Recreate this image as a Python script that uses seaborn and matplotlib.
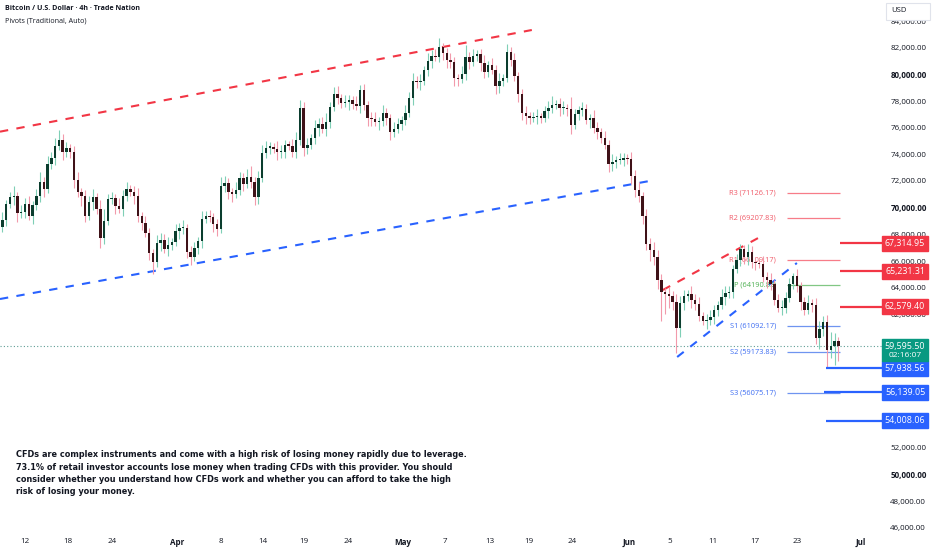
import numpy as np
import pandas as pd
import seaborn as sns
import matplotlib.pyplot as plt
from matplotlib.patches import Rectangle
import matplotlib.transforms as mtransforms

# 12h candles, closes (USD)
first_open = 67900
closes = [
    68550, 69100, 70300, 70800, 70900, 69600, 69700, 70300, 69400, 70200,
    70900, 71900, 71400, 73300, 73700, 74600, 75100, 74200, 74450, 74200,
    72100, 71200, 70850, 69400, 70450, 70800, 69900, 67750, 69000, 70650,
    70700, 70150, 69900, 70900, 71400, 71200, 70900, 69350, 68850, 68100,
    66600, 65950, 67350, 67600, 66900, 67200, 67400, 68250, 68450, 68500,
    66700, 66300, 66950, 67500, 69150, 69350, 69300, 68750, 68400, 71600,
    71850, 71150, 71000, 71350, 72200, 71750, 72300, 71900, 70800, 72250,
    74100, 74500, 74550, 74400, 74150, 74200, 74700, 74650, 74200, 75100,
    77500, 74500, 74700, 75200, 76000, 76300, 75900, 76400, 77550, 78550,
    78250, 77850, 77950, 78050, 77800, 77600, 78800, 77700, 76750, 76650,
    76400, 76500, 77100, 76700, 75700, 75900, 76300, 76600, 77100, 78200,
    79500, 79400, 79500, 80300, 81000, 81400, 81300, 82050, 81600, 81100,
    80900, 79700, 79650, 80000, 81300, 80900, 81400, 81500, 80850, 80200,
    80700, 80300, 79100, 79500, 79700, 81650, 81100, 79900, 78500, 77100,
    76900, 76700, 76800, 76800, 76750, 77250, 77500, 77700, 77800, 77450,
    77500, 77400, 76200, 77000, 77350, 77400, 76600, 76750, 76000, 75650,
    75250, 74700, 73250, 73400, 73550, 73600, 73700, 73650, 72400, 71300,
    70850, 69400, 67300, 66800, 66300, 64600, 63700, 63550, 63350, 62900,
    61000, 62850, 63400, 63550, 63100, 62800, 61900, 61500, 61600, 61800,
    62300, 62700, 63300, 63600, 63700, 65400, 66050, 66900, 66300, 66650,
    65900, 65850, 65750, 64800, 64600, 64300, 63100, 62450, 62500, 63200,
    64300, 64900, 64150, 62900, 62350, 62850, 62700, 60200, 60900, 61450,
    59350, 59600, 60000, 59595.5,
]
# wick lengths above / below the body, in hundreds of USD
wick_up = [
    5, 6, 3, 4, 7, 3, 5, 4, 6, 3, 5, 8, 4, 6, 5, 6, 7, 4, 5, 3,
    4, 6, 3, 5, 4, 6, 3, 7, 9, 4, 5, 3, 6, 4, 5, 3, 4, 6, 3, 5,
    4, 3, 6, 5, 4, 6, 3, 5, 4, 6, 3, 4, 5, 3, 6, 4, 5, 3, 4, 7,
    5, 4, 3, 6, 5, 4, 6, 8, 4, 5, 6, 5, 4, 3, 6, 5, 4, 3, 5, 6,
    6, 4, 5, 3, 6, 4, 5, 7, 4, 5, 6, 3, 5, 4, 3, 6, 4, 5, 3, 4,
    5, 3, 6, 4, 3, 5, 4, 3, 6, 5, 6, 4, 5, 3, 6, 4, 5, 7, 3, 4,
    5, 4, 3, 6, 9, 4, 5, 3, 4, 6, 3, 5, 4, 6, 3, 6, 4, 5, 3, 4,
    5, 3, 4, 6, 3, 4, 5, 7, 3, 4, 5, 3, 9, 4, 3, 5, 4, 3, 6, 4,
    3, 5, 4, 6, 3, 5, 4, 3, 5, 4, 6, 3, 5, 4, 6, 5, 4, 3, 5, 4,
    6, 5, 4, 3, 6, 4, 5, 3, 4, 5, 4, 3, 6, 5, 4, 3, 5, 4, 3, 6,
    5, 4, 3, 6, 4, 5, 3, 4, 6, 5, 4, 2, 5, 3, 4, 6, 3, 5, 6, 4,
    5, 11, 6, 3,
]
wick_down = [
    6, 4, 5, 3, 6, 7, 4, 5, 3, 6, 4, 5, 6, 3, 4, 5, 3, 6, 4, 5,
    6, 4, 7, 5, 3, 6, 4, 8, 5, 3, 4, 6, 3, 5, 4, 3, 6, 4, 5, 3,
    5, 9, 4, 6, 3, 5, 4, 3, 6, 4, 5, 6, 3, 4, 5, 3, 4, 6, 5, 3,
    4, 5, 6, 3, 4, 5, 3, 4, 6, 5, 3, 4, 5, 3, 6, 4, 5, 3, 4, 5,
    4, 6, 5, 3, 4, 6, 3, 5, 4, 3, 5, 4, 3, 6, 4, 3, 5, 4, 6, 5,
    3, 6, 4, 5, 6, 4, 3, 5, 4, 3, 5, 4, 6, 3, 4, 5, 3, 4, 5, 6,
    4, 6, 5, 3, 4, 5, 3, 4, 6, 5, 4, 3, 6, 5, 4, 3, 5, 4, 6, 5,
    6, 4, 3, 5, 4, 3, 5, 4, 3, 6, 4, 5, 7, 3, 4, 5, 3, 6, 4, 5,
    4, 3, 6, 5, 4, 3, 5, 4, 6, 5, 4, 6, 5, 8, 6, 7, 22, 15, 9, 6,
    19, 7, 5, 4, 6, 5, 4, 3, 6, 4, 5, 4, 3, 6, 4, 5, 3, 4, 5, 6,
    4, 5, 3, 4, 6, 5, 4, 3, 5, 4, 3, 4, 5, 6, 4, 3, 5, 4, 8, 5,
    13, 6, 14, 11,
]

# time axis in days since 1 Mar, bars every 12h
bar_start, bar_step = 7.5, 0.5

# x tick labels
tick_days = [11.0, 16.7, 22.55, 31.2, 37.0, 42.6, 48.05, 53.9, 61.2, 66.8,
             72.75, 77.9, 83.65, 91.2, 96.65, 102.35, 107.95, 113.5, 122.0]
tick_text = ["12", "18", "24", "Apr", "8", "14", "19", "24", "May", "7",
             "13", "19", "24", "Jun", "5", "11", "17", "23", "Jul"]
month_text = ["Apr", "May", "Jun", "Jul"]

# trend lines: (day, price) end points
channel_top = [(7.68, 75700), (78.3, 83325)]
channel_bottom = [(7.68, 63150), (94.66, 72075)]
flag_top = [(95.7, 63825), (108.6, 67800)]
flag_bottom = [(97.6, 58800), (113.5, 65850)]

# traditional pivots
pivot_names = ["R3", "R2", "R1", "P", "S1", "S2", "S3"]
pivot_values = [71126.17, 69207.83, 66109.17, 64190.83, 61092.17, 59173.83, 56075.17]

# key levels
resist_levels = [67314.95, 65231.31, 62579.40]
support_levels = [57938.56, 56139.05, 54008.06]
last_price = 59595.50
countdown = "02:16:07"

disclaimer = ("CFDs are complex instruments and come with a high risk of losing money rapidly due to leverage.\n"
              "73.1% of retail investor accounts lose money when trading CFDs with this provider. You should\n"
              "consider whether you understand how CFDs work and whether you can afford to take the high\n"
              "risk of losing your money.")

# ---- build OHLC table
df = pd.DataFrame({"close": closes})
df["t"] = bar_start + bar_step * np.arange(len(df))
df["open"] = [first_open] + closes[:-1]
df["high"] = df[["open", "close"]].max(axis=1) + np.array(wick_up) * 100
df["low"] = df[["open", "close"]].min(axis=1) - np.array(wick_down) * 100
df["up"] = df["close"] >= df["open"]

sns.set_theme(style="white")
plt.rcParams["font.family"] = ["Open Sans", "DejaVu Sans"]
TXT = "#131722"
RED, BLUE, GREEN = "#f23645", "#2962ff", "#089981"

fig = plt.figure(figsize=(9.32, 5.5), dpi=100)
ax = fig.add_axes([0, 18 / 550, 882 / 932, 532 / 550])
ax.set_xlim(7.68, 124.8)
ax.set_ylim(45675, 85575)

# trend lines
for pts, col in [(channel_top, RED), (channel_bottom, BLUE), (flag_top, RED), (flag_bottom, BLUE)]:
    ax.plot([p[0] for p in pts], [p[1] for p in pts], color=col, lw=1.5,
            ls=(0, (4, 4)), zorder=2)

# candles
wick_col = np.where(df["up"], "#7fcfb6", "#f29aab")
body_col = np.where(df["up"], "#0b3d2e", "#3f1218")
ax.vlines(df["t"], df["low"], df["high"], colors=wick_col, lw=0.8, zorder=3)
height = np.maximum((df["close"] - df["open"]).abs(), 90)
ax.bar(df["t"], height, bottom=df[["open", "close"]].min(axis=1), width=0.32,
       color=body_col, linewidth=0, zorder=4)

# last price dotted line
ax.axhline(last_price, color="#5f9e95", lw=0.8, ls=(0, (1, 2)), zorder=1)

# pivot lines and labels
piv_col = {"R": ("#f77c88", "#f05a68"), "P": ("#81c784", "#4caf50"), "S": ("#6f94f0", "#3d6df2")}
for name, val in zip(pivot_names, pivot_values):
    lc, tc = piv_col[name[0]]
    ax.hlines(val, 112.2, 119.2, color=lc, lw=0.9, zorder=2)
    ax.text(110.7, val, f"{name} ({val:.2f})", color=tc, fontsize=5.3,
            ha="right", va="center", zorder=2)

# key levels
for lvl in resist_levels:
    ax.hlines(lvl, 119.2, 124.8, color=RED, lw=1.6, zorder=5)
for i, lvl in enumerate(support_levels):
    ax.hlines(lvl, 117.1 if i == 1 else 117.4, 124.8, color=BLUE, lw=1.6, zorder=5)

# axes styling
for s in ax.spines.values():
    s.set_visible(False)
ax.grid(False)
yt = np.arange(46000, 84001, 2000)
hidden = [54000, 56000, 58000]  # fully covered by the price tags
ax.yaxis.tick_right()
ax.set_yticks(yt, ["" if v in hidden else f"{v:,.2f}" for v in yt])
for lab, v in zip(ax.get_yticklabels(), yt):
    if v % 10000 == 0:
        lab.set_fontweight("bold")
ax.tick_params(axis="y", length=0, pad=6, labelsize=5.8, labelcolor=TXT)
ax.set_xticks(tick_days, tick_text)
for lab in ax.get_xticklabels():
    if lab.get_text() in month_text:
        lab.set_fontweight("bold")
ax.tick_params(axis="x", length=0, pad=4, labelsize=5.8, labelcolor=TXT)

# price tags on the axis
blend = mtransforms.blended_transform_factory(ax.transAxes, ax.transData)
tag_w, tag_h = 46 / 882, 1130


def tag(price, color, lo=None, hi=None):
    lo = price - tag_h / 2 if lo is None else lo
    hi = price + tag_h / 2 if hi is None else hi
    ax.add_patch(Rectangle((1.0, lo), tag_w, hi - lo, transform=blend,
                           color=color, clip_on=False, zorder=10))


for lvl in resist_levels:
    tag(lvl, RED)
    ax.text(1 + tag_w / 2, lvl, f"{lvl:,.2f}", transform=blend, color="white",
            fontsize=6.4, ha="center", va="center", zorder=11, clip_on=False)
for lvl in support_levels:
    tag(lvl, BLUE)
    ax.text(1 + tag_w / 2, lvl, f"{lvl:,.2f}", transform=blend, color="white",
            fontsize=6.4, ha="center", va="center", zorder=11, clip_on=False)
tag(last_price, GREEN, lo=58500, hi=60120)
ax.text(1 + tag_w / 2, 59560, f"{last_price:,.2f}", transform=blend, color="white",
        fontsize=6.4, ha="center", va="center", zorder=11, clip_on=False)
ax.text(1 + tag_w / 2, 58880, countdown, transform=blend, color="white",
        fontsize=6.0, ha="center", va="center", zorder=11, clip_on=False)

# currency box
fig.patches.append(Rectangle((886 / 932, 1 - 20 / 550), 44 / 932, 17 / 550,
                             transform=fig.transFigure, facecolor="white",
                             edgecolor="#e0e3eb", lw=0.8, zorder=20))
fig.text(891 / 932, 1 - 11 / 550, "USD", fontsize=5.5, color=TXT, va="center", zorder=21)

# header and disclaimer
fig.text(5 / 932, 1 - 9 / 550, "Bitcoin / U.S. Dollar · 4h · Trade Nation",
         fontsize=5.1, weight="bold", color=TXT, va="center")
fig.text(5 / 932, 1 - 21 / 550, "Pivots (Traditional, Auto)",
         fontsize=5.1, color=TXT, va="center")
fig.text(16 / 932, 1 - 450 / 550, disclaimer, fontsize=5.85, weight="bold",
         family="DejaVu Sans", color=TXT, va="top", linespacing=1.5)

fig.savefig("out.png", dpi=100)
